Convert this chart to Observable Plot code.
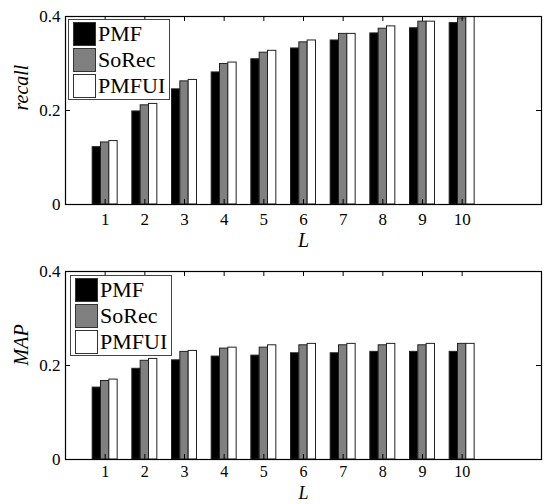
<!DOCTYPE html>
<html><head><meta charset="utf-8">
<script src="https://cdn.jsdelivr.net/npm/d3@7"></script>
<script src="https://cdn.jsdelivr.net/npm/@observablehq/plot@0.6"></script>
<style>
body{margin:0;background:#fff;}
#wrap{position:relative;width:544px;height:504px;font-family:"Liberation Serif","DejaVu Serif","Times New Roman",serif;}
#wrap svg{display:block;}
#wrap svg text{font-family:"Liberation Serif","DejaVu Serif","Times New Roman",serif;}
.legend{position:absolute;background:#fff;border:1px solid #444;box-sizing:border-box;}
.item{position:absolute;left:4px;height:24px;display:flex;align-items:center;}
.sw{width:23px;height:24px;box-sizing:border-box;border:1.5px solid #333;margin-right:2px;}
.lab{font-size:22px;line-height:24px;color:#000;font-family:"Liberation Serif","DejaVu Serif","Times New Roman",serif;}
</style></head><body><div id="wrap"></div>
<script>
const L = [1, 2, 3, 4, 5, 6, 7, 8, 9, 10];
const seriesNames = ["PMF", "SoRec", "PMFUI"];
const seriesColors = ["#000000", "#808080", "#ffffff"];
const recallPMF   = [0.122, 0.198, 0.245, 0.281, 0.309, 0.332, 0.349, 0.364, 0.375, 0.386];
const recallSoRec = [0.132, 0.211, 0.262, 0.299, 0.323, 0.345, 0.363, 0.374, 0.389, 0.396];
const recallPMFUI = [0.135, 0.214, 0.265, 0.302, 0.327, 0.349, 0.363, 0.379, 0.389, 0.402];
const mapPMF   = [0.153, 0.193, 0.211, 0.219, 0.221, 0.226, 0.226, 0.229, 0.229, 0.229];
const mapSoRec = [0.167, 0.210, 0.229, 0.236, 0.238, 0.243, 0.243, 0.243, 0.243, 0.246];
const mapPMFUI = [0.170, 0.214, 0.231, 0.238, 0.243, 0.246, 0.246, 0.246, 0.246, 0.246];
const yTicks = [0, 0.2, 0.4];
const xLabel = "L";

const W = 544, ML = 65, MR = 3;
const BW = 0.21;
const FONT = "'Liberation Serif', 'DejaVu Serif', 'Times New Roman', serif";

function panel(seriesVals, yLabel, H, mt, mb, legendTop, legendLeft, lDy, lSize, tPad, tSize) {
  const rows = [];
  seriesVals.forEach((vals, si) => {
    vals.forEach((v, i) => rows.push({L: L[i], series: seriesNames[si], si, v}));
  });
  const innerH = H - mt - mb, innerW = W - ML - MR;
  const tk = 5;
  const svg = Plot.plot({
    width: W, height: H, marginTop: mt, marginBottom: mb, marginLeft: ML, marginRight: MR,
    style: {fontFamily: FONT, fontSize: "17px", color: "#000", background: "#fff"},
    x: {domain: [0, 12]},
    y: {domain: [0, 0.4]},
    color: {domain: seriesNames, range: seriesColors},
    marks: [
      Plot.rectY(rows, {
        x1: d => d.L + (d.si - 1) * BW - BW / 2,
        x2: d => d.L + (d.si - 1) * BW + BW / 2,
        y1: 0, y2: "v", fill: "series", stroke: "#222", strokeWidth: 1, clip: true, inset: 0
      }),
      Plot.frame({stroke: "#000", strokeWidth: 1.2}),
      Plot.ruleX(L, {x: d => d, insetTop: innerH - tk, stroke: "#000"}),
      Plot.ruleX(L, {x: d => d, insetBottom: innerH - tk, stroke: "#000"}),
      Plot.ruleY(yTicks, {y: d => d, insetRight: innerW - tk, stroke: "#000"}),
      Plot.ruleY(yTicks, {y: d => d, insetLeft: innerW - tk, stroke: "#000"}),
      Plot.axisX(L, {anchor: "bottom", tickSize: 0, tickPadding: tPad, label: null, fontSize: tSize, fontFamily: FONT}),
      Plot.axisY(yTicks, {anchor: "left", tickSize: 0, tickPadding: 5, label: null, fontSize: 17, fontFamily: FONT,
        tickFormat: d => d === 0 ? "0" : d.toFixed(1)}),
      Plot.text([xLabel], {frameAnchor: "bottom", dy: lDy, lineAnchor: "middle", fontStyle: "italic", fontSize: lSize, fontFamily: FONT, fill: "#000"}),
      Plot.text([yLabel], {frameAnchor: "left", dx: -44, rotate: -90, fontStyle: "italic", fontSize: 20, fontFamily: FONT, fill: "#000"})
    ]
  });
  const box = document.createElement("div");
  box.style.position = "relative";
  box.style.width = W + "px";
  box.style.height = H + "px";
  box.appendChild(svg);
  const lg = document.createElement("div");
  lg.className = "legend";
  lg.style.left = legendLeft + "px";
  lg.style.top = legendTop + "px";
  lg.style.width = "102px";
  lg.style.height = "81px";
  seriesNames.forEach((n, i) => {
    const it = document.createElement("div");
    it.className = "item";
    it.style.top = (2 + i * 26) + "px";
    const sw = document.createElement("div");
    sw.className = "sw";
    sw.style.background = seriesColors[i];
    const lab = document.createElement("span");
    lab.className = "lab";
    lab.textContent = n;
    it.appendChild(sw); it.appendChild(lab);
    lg.appendChild(it);
  });
  box.appendChild(lg);
  return box;
}

const wrap = document.getElementById("wrap");
wrap.appendChild(panel([recallPMF, recallSoRec, recallPMFUI], "recall", 250, 16, 46, 19, 68, 36, 20, 8, 17));
wrap.appendChild(panel([mapPMF, mapSoRec, mapPMFUI], "MAP", 254, 21, 45, 25, 70, 34, 18, 6, 16));
</script></body></html>
